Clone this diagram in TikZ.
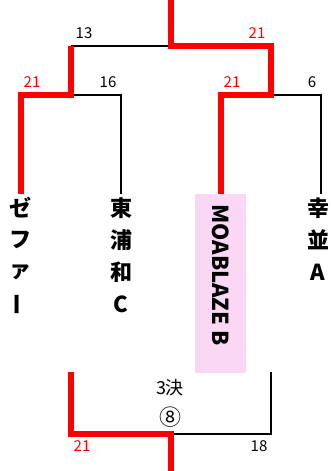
\documentclass[tikz,border=0pt]{standalone}
\usepackage{fontspec}
\setmainfont{Noto Sans CJK JP}
\usetikzlibrary{positioning}
\definecolor{winred}{RGB}{255,0,0}
\definecolor{moapink}{RGB}{250,216,245}

\begin{document}
\begin{tikzpicture}[x=1pt, y=-1pt,
		winline/.style={winred, line width=6pt, line join=miter},
		loseline/.style={black, line width=2pt, line join=miter},
		score/.style={font=\fontsize{15}{15}\selectfont, inner sep=0pt},
		winscore/.style={score, text=winred},
		teamchar/.style={font=\fontsize{22}{22}\selectfont\bfseries, inner sep=0pt},
		plain/.style={font=\fontsize{18}{18}\selectfont, inner sep=0pt}]
	
	% Frame of the picture
	\useasboundingbox (0,0) rectangle (330,471);
	
	% Points of the bracket
	\coordinate (champ) at (170.5,0);
	\coordinate (fin) at (170.5,46);
	\coordinate (semiL) at (70.5,95);
	\coordinate (semiR) at (270.5,95);
	\coordinate (zeph) at (20.5,194);
	\coordinate (ura) at (121,194);
	\coordinate (moa) at (220.5,194);
	\coordinate (kou) at (321,194);
	
	% Losing lines
	\draw[loseline] (fin) -- (semiL |- fin);
	\draw[loseline] (semiL) -| (ura);
	\draw[loseline] (semiR) -| (kou);
	
	% Winning lines
	\draw[winline] (champ) -- (fin) -| (semiR) -| (moa);
	\draw[winline] (semiL |- fin) -- (semiL) -| (zeph);
	
	% Scores
	\node[score] (s13) at (84,33) {13};
	\node[winscore] (s21f) at (257,33) {21};
	\node[winscore] (s21l) at (32,82) {21};
	\node[score] (s16) at (108,82) {16};
	\node[winscore] (s21r) at (232,82) {21};
	\node[score] (s6) at (312,82) {6};
	
	% Team names
	\fill[moapink] (195,194) rectangle (246,373);
	\node[teamchar, rotate=-90] (moaname) at (220.5,275) {MOABLAZE B};
	\foreach \c [count=\i] in {ゼ,フ,ァ}
		\node[teamchar] (zeph-\i) at (20.5,{208+32*(\i-1)}) {\c};
	\node[teamchar, rotate=90] (zeph-4) at (20.5,304) {ー};
	\foreach \c [count=\i] in {東,浦,和,C}
		\node[teamchar] (ura-\i) at (121,{208+32*(\i-1)}) {\c};
	\foreach \c [count=\i] in {幸,並,A}
		\node[teamchar] (kou-\i) at (318,{208+32*(\i-1)}) {\c};
	
	% Third place match
	\coordinate (thirdL) at (70.5,372);
	\coordinate (thirdR) at (270.5,372);
	\coordinate (third) at (170.5,434);
	\coordinate (thirdOut) at (170.5,471);
	\draw[loseline] (third) -| (thirdR);
	\draw[winline] (thirdL) |- (third) -- (thirdOut);
	\node[plain] (thirdlabel) at (170,388) {3決};
	\node[plain, font=\fontsize{22}{22}\selectfont] (thirdno) at (170,417) {⑧};
	\node[winscore] (s21t) at (82,446) {21};
	\node[score] (s18) at (259,446) {18};
	
\end{tikzpicture}
\end{document}
